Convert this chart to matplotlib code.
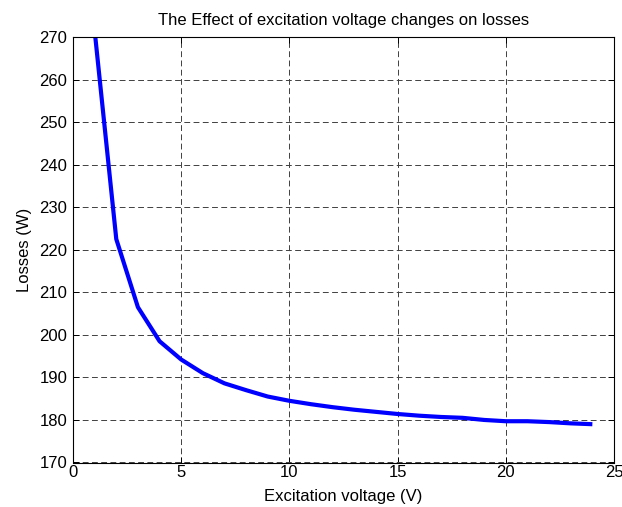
import matplotlib
matplotlib.use('Agg')
from matplotlib import pyplot as plt
import numpy as np

# tension de excitacion (V) y perdidas (W)
voltaje = [1, 2, 3, 4, 5, 6, 7, 8, 9, 10, 11, 12, 13, 14, 15, 16, 17, 18, 19, 20, 21, 22, 23, 24]
perdidas = [271.5, 222.5, 206.5, 198.5, 194.2, 191.0, 188.6, 187.0, 185.5, 184.5, 183.7, 183.0,
            182.4, 181.9, 181.4, 181.0, 180.7, 180.5, 180.0, 179.7, 179.7, 179.5, 179.2, 179.0]

plt.rcParams['font.family'] = ['Liberation Sans', 'DejaVu Sans']
plt.rcParams['font.size'] = 12

fig = plt.figure(figsize=(6.22, 5.07), dpi=100)
ax = fig.add_axes([73 / 622, 1 - 462.5 / 507, (614 - 73) / 622, (462.5 - 37) / 507])

ax.plot(voltaje, perdidas, color='#0000ff', linewidth=3, solid_capstyle='butt')

ax.set_xlim(0, 25)
ax.set_ylim(170, 270)
ax.set_xticks(np.arange(0, 26, 5))
ax.set_yticks(np.arange(170, 271, 10))
ax.grid(True, color='0.25', linestyle=(0, (6, 3.5)), linewidth=0.7)
ax.tick_params(direction='in', length=4, width=0.7, top=True, right=True)
ax.tick_params(axis='y', pad=4)
ax.tick_params(axis='x', pad=2)
for s in ax.spines.values():
    s.set_linewidth(0.8)

ax.set_title('The Effect of excitation voltage changes on losses', fontsize=12, pad=8.5)
ax.set_xlabel('Excitation voltage (V)', labelpad=6)
ax.set_ylabel('Losses (W)', labelpad=5)

plt.savefig('out.png', dpi=100)
